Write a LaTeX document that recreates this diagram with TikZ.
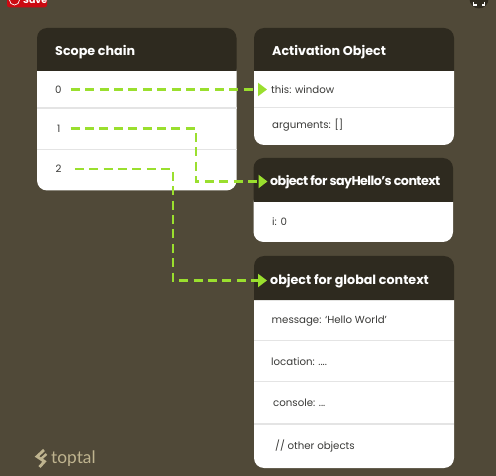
\documentclass[tikz,border=0pt]{standalone}
\usepackage{fontspec}
\setmainfont{Poppins}
\newfontfamily\logofont{Lato}
\usepackage{tikz}
\usetikzlibrary{positioning, arrows.meta}
\definecolor{bgcol}{HTML}{504938}
\definecolor{headcol}{HTML}{2E2A1F}
\definecolor{linkcol}{HTML}{9ADF2E}
\definecolor{rowcol}{HTML}{E4E4E4}
\definecolor{textcol}{HTML}{3A3A38}
\definecolor{logocol}{HTML}{BFB48F}
\definecolor{savecol}{HTML}{CB0A12}

\begin{document}
\begin{tikzpicture}[
    x=1pt, y=-1pt,
    title/.style={anchor=west, inner sep=0pt, text=white, font=\fontsize{12.7}{15}\selectfont\bfseries},
    entry/.style={anchor=west, inner sep=0pt, text=textcol, font=\fontsize{10.2}{12}\selectfont},
    rowline/.style={draw=rowcol, line width=1.1pt},
    link/.style={draw=linkcol, line width=2.2pt, dash pattern=on 9pt off 5.4pt, -{Triangle[length=9pt, width=13pt]}}
]

    % Background
    \fill[bgcol] (0,0) rectangle (496,476);
    \clip (0,0) rectangle (496,476);

    % Cards: left / top / right / bottom of header / bottom
    \foreach \l/\t/\r/\m/\b in {37/28/236.5/71/190.5, 254/28/454/71/145, 253.5/158/453/202/242, 254/256/454/300/468} {
        \fill[white, rounded corners=10pt] (\l,\m-10) rectangle (\r,\b);
        \fill[headcol] (\l,\m) [rounded corners=10pt] -- (\l,\t) -- (\r,\t) [sharp corners] -- (\r,\m) -- cycle;
    }

    % Row lines
    \foreach \l/\r/\y in {37/236.5/108, 37/236.5/149.5, 254/454/107.5, 254/454/340.5, 254/454/381.5, 254/454/424} {
        \draw[rowline] (\l,\y) -- (\r,\y);
    }

    % Scope chain
    \node[title] (scope) at (55,52.5) {Scope chain};
    \node[entry] (idx0) at (55,89.5) {0};
    \node[entry] (idx1) at (57,128.5) {1};
    \node[entry] (idx2) at (55.5,169) {2};

    % Activation object
    \node[title] (activation) at (272,52.5) {Activation Object};
    \node[entry] (this) at (271,89.5) {this: window};
    \node[entry] (arguments) at (272,125) {arguments: []};

    % sayHello context
    \node[title, font=\fontsize{12.7}{15}\selectfont\bfseries\addfontfeature{LetterSpace=-4.6}] (hello) at (270,182.5) {object for sayHello's context};
    \node[entry] (counter) at (272,222) {i: 0};

    % Global context
    \node[title] (global) at (270,281.5) {object for global context};
    \node[entry] (message) at (271.5,321.5) {message: `Hello World'};
    \node[entry] (location) at (271,361.5) {location: ....};
    \node[entry] (console) at (273,402.5) {console: ...};
    \node[entry] (others) at (275,446.5) {// other objects};

    % Links
    \draw[link, shorten <=9pt, shorten >=4pt] (idx0.east) -- (this.west);
    \draw[link, shorten <=10pt, shorten >=2.5pt] (idx1.east) -- ++(135,0) |- ([yshift=1pt]hello.west);
    \draw[link, shorten <=13pt, shorten >=3pt] (idx2.east) -- ++(111,0) |- ([yshift=1pt]global.west);

    % Logo
    \node[anchor=west, inner sep=0pt, text=logocol, font=\logofont\fontsize{17.3}{20}\selectfont] (toptal) at (51,459) {toptal};
    \draw[logocol, line width=2.8pt, line join=miter] (44,450) -- (37,456.5) -- (44.5,461.5) -- (39.5,467);
    \draw[logocol, line width=2.4pt] (46.5,454) -- (41.5,458.5);

    % Save button
    \fill[savecol, rounded corners=2.5pt] (7,-6) rectangle (47,7.5);
    \node[anchor=west, inner sep=0pt, text=white, font=\fontsize{9.5}{10}\selectfont\bfseries] (save) at (23,0) {Save};
    \draw[white, line width=0.7pt] (14.5,0) circle (5pt);

    % Expand button
    \fill[headcol] (479,-1) circle (9.5pt);
    \draw[white, line width=1.1pt] (473.5,2) -- (473.5,5) -- (476.5,5);
    \draw[white, line width=1.1pt] (484.5,2) -- (484.5,5) -- (481.5,5);

\end{tikzpicture}
\end{document}
